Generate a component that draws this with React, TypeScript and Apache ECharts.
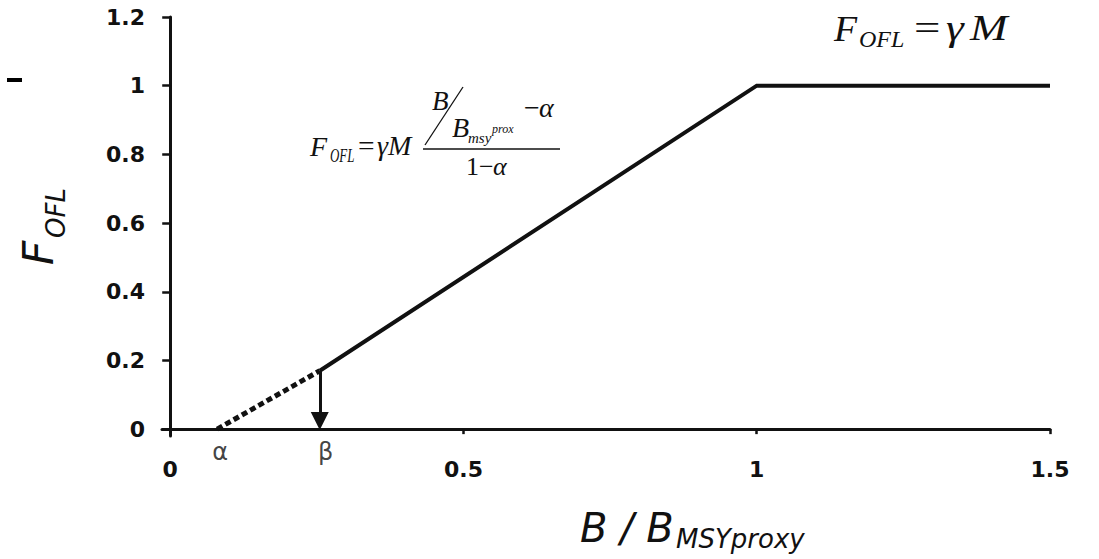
import React, { useEffect, useRef } from "react";
import * as echarts from "echarts";

// ---- data ----
const dashedX = [0.08, 0.255];
const dashedY = [0, 0.17];
const solidX = [0.255, 1, 1.5];
const solidY = [0.17, 1, 1];
const arrowFrom = [0.255, 0.17];
const arrowTo = [0.255, 0.024]; // head centre, so that the tip touches 0
const markerX = [0.08, 0.255];
const markerLabels = ["α", "β"];
const xTicks = [0, 0.5, 1, 1.5];
const yTicks = [0, 0.2, 0.4, 0.6, 0.8, 1, 1.2];

const INK = "#111";
const SERIF = '"Liberation Serif", "Times New Roman", serif';
const SANS = '"DejaVu Sans", Verdana, sans-serif';

function txt(
  text: string,
  left: number,
  baseline: number,
  size: number,
  opts: { italic?: boolean; family?: string; scaleX?: number; rot?: number; k?: number } = {}
) {
  const family = opts.family || SERIF;
  const k = opts.k ?? (family === SERIF ? 0.3375 : 0.346);
  const rot = opts.rot || 0;
  const x = rot ? baseline - k * size : left;
  const y = rot ? left : baseline - k * size;
  return {
    type: "text",
    x,
    y,
    rotation: rot,
    scaleX: opts.scaleX ?? 1,
    silent: true,
    style: {
      text,
      font: `${opts.italic ? "italic " : ""}${size}px ${family}`,
      fill: INK,
      align: "left",
      verticalAlign: "middle",
      textAlign: "left",
      textVerticalAlign: "middle",
    },
  };
}

function line(x1: number, y1: number, x2: number, y2: number, w: number) {
  return {
    type: "line",
    silent: true,
    shape: { x1, y1, x2, y2 },
    style: { stroke: INK, lineWidth: w },
  };
}

export default function App() {
  const ref = useRef<HTMLDivElement>(null);

  useEffect(() => {
    if (!ref.current) return;
    const chart = echarts.init(ref.current, null, { renderer: "svg" });

    const graphic: any[] = [
      // stray mark at top-left of original
      { type: "rect", silent: true, shape: { x: 7, y: 78, width: 15, height: 4 }, style: { fill: "#000" } },

      // top-right formula  F_OFL = γM
      txt("F", 834, 40.5, 36, { italic: true, scaleX: 1.05 }),
      txt("OFL", 859, 47, 24, { italic: true }),
      txt("=", 914, 40, 36, { scaleX: 1.3 }),
      txt("γ", 946, 40, 36, { italic: true, scaleX: 1.25 }),
      txt("M", 970, 40, 36, { italic: true, scaleX: 1.25 }),

      // middle formula
      txt("F", 310, 156, 28, { italic: true }),
      txt("OFL", 330, 162, 18, { italic: true, scaleX: 0.72 }),
      txt("=", 358, 155, 28, { scaleX: 1.05 }),
      txt("γ", 377, 155, 28, { italic: true }),
      txt("M", 388, 155, 28, { italic: true }),
      txt("B", 432, 110, 27, { italic: true }),
      line(425, 145, 463, 87, 1.3),
      txt("B", 452, 137, 28, { italic: true }),
      txt("msy", 468, 143, 15, { italic: true }),
      txt("prox", 492, 133, 12, { italic: true }),
      txt("−", 524, 117, 28),
      txt("α", 539, 117, 28, { italic: true }),
      line(423, 149, 560, 149, 1.4),
      txt("1", 466, 175, 26),
      txt("−", 479, 175, 26),
      txt("α", 493, 175, 26, { italic: true }),

      // x axis title
      txt("B / B", 580, 542, 40, { italic: true, family: SANS }),
      txt("MSYproxy", 676, 548, 26, { italic: true, family: SANS }),

      // y axis title (rotated)
      txt("F", 265, 53, 42, { italic: true, family: SANS, rot: Math.PI / 2 }),
      txt("OFL", 238, 65, 26, { italic: true, family: SANS, rot: Math.PI / 2 }),
    ];

    const option: any = {
      animation: false,
      backgroundColor: "#fff",
      grid: { left: 162, right: 49, top: 17, bottom: 123, containLabel: false },
      xAxis: {
        type: "value",
        min: -0.014,
        max: 1.5,
        splitLine: { show: false },
        axisLine: { show: true, onZero: true, lineStyle: { color: INK, width: 3 } },
        axisTick: { show: true, length: 5, customValues: xTicks, lineStyle: { color: INK, width: 2.5 } },
        axisLabel: {
          customValues: xTicks,
          margin: 22,
          color: INK,
          fontFamily: SANS,
          fontWeight: "bold",
          fontSize: 22,
        },
      },
      yAxis: {
        type: "value",
        min: -0.02,
        max: 1.2,
        splitLine: { show: false },
        axisLine: { show: true, onZero: true, lineStyle: { color: INK, width: 3 } },
        axisTick: { show: true, length: 8, customValues: yTicks, lineStyle: { color: INK, width: 2.5 } },
        axisLabel: {
          customValues: yTicks,
          margin: 17,
          color: INK,
          fontFamily: SANS,
          fontWeight: "bold",
          fontSize: 22,
        },
      },
      graphic,
      series: [
        {
          type: "line",
          data: dashedX.map((x, i) => [x, dashedY[i]]),
          showSymbol: false,
          symbol: "none",
          silent: true,
          lineStyle: { color: INK, width: 5, type: [6, 3.5], cap: "butt" },
          z: 3,
        },
        {
          type: "line",
          data: solidX.map((x, i) => [x, solidY[i]]),
          showSymbol: false,
          symbol: "none",
          silent: true,
          lineStyle: { color: INK, width: 4, join: "miter" },
          z: 3,
          markLine: {
            silent: true,
            animation: false,
            symbol: ["none", "triangle"],
            symbolSize: 18,
            label: { show: false },
            lineStyle: { color: INK, width: 3, type: "solid" },
            data: [[{ coord: arrowFrom }, { coord: arrowTo }]],
          },
        },
        {
          type: "scatter",
          symbolSize: 0,
          silent: true,
          data: markerX.map((x, i) => ({
            value: [x, 0],
            name: markerLabels[i],
            label: { offset: [i === 0 ? 3 : 6, 0] },
          })),
          label: {
            show: true,
            position: "bottom",
            distance: 11,
            formatter: (p: any) => p.name,
            color: INK,
            fontFamily: SANS,
            fontSize: 24,
          },
        },
      ],
    };

    chart.setOption(option);
    return () => chart.dispose();
  }, []);

  return (
    <div
      ref={ref}
      style={{ position: "fixed", left: 0, top: 0, width: 1099, height: 559, background: "#fff" }}
    />
  );
}
